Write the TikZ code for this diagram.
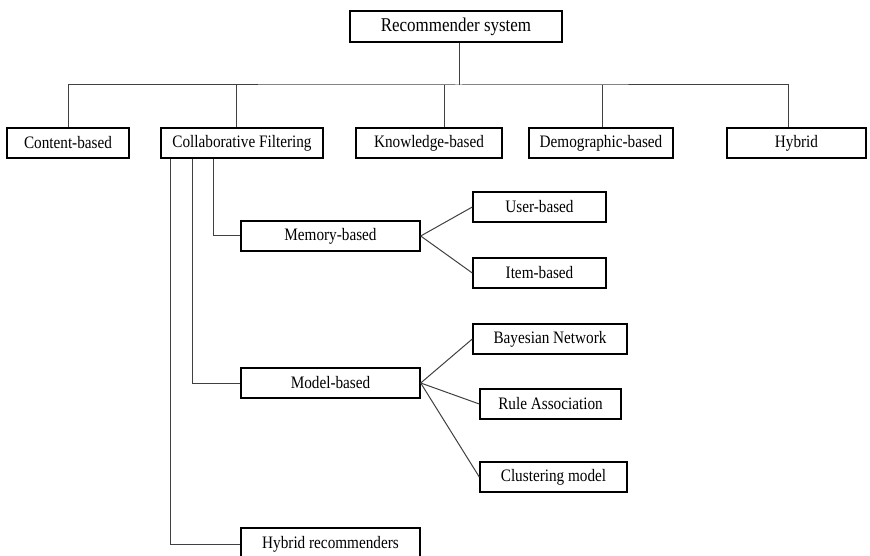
\documentclass[tikz,border=0pt]{standalone}
\usepackage{fontspec}
\setmainfont{Liberation Serif}[FakeStretch=0.87]
\tikzset{
  box/.style={draw=black, line width=1.4pt, fill=white, rectangle, inner sep=0pt,
    font=\fontsize{17.5}{19}\selectfont},
  conn/.style={draw=black!75, line width=1pt},
}
\begin{document}
\begin{tikzpicture}[x=1pt,y=-1pt]
\useasboundingbox (0,0) rectangle (870,556);
% helper: box from x1..x2, y1..y2
\newcommand{\bx}[6][]{\node[box,#1,minimum width={#4-#3},minimum height={#6-#5}] (#2) at ({(#3+#4)/2},{(#5+#6)/2})}
\bx[font=\fontsize{19.5}{21}\selectfont]{root}{350}{562}{11}{42} {Recommender system};
\bx{cb}{7}{129}{128}{158} {Content-based};
\bx{cf}{161}{323}{128}{158} {Collaborative Filtering};
\bx{kb}{356}{502}{128}{158} {Knowledge-based};
\bx{db}{529}{673}{128}{158} {Demographic-based};
\bx{hy}{727}{866}{128}{158} {Hybrid};
\bx{mem}{241}{420}{221}{251} {Memory-based};
\bx{ub}{473}{606}{192}{222} {User-based};
\bx{ib}{473}{606}{258}{288} {Item-based};
\bx{mod}{241}{420}{368}{398} {Model-based};
\bx{bn}{473}{627}{324}{354} {Bayesian Network};
\bx{ra}{480}{621}{389}{419} {Rule Association};
\bx{cm}{480}{627}{462}{492} {Clustering model};
\bx{hr}{241}{420}{528}{560} {Hybrid recommenders};
% tree connectors
\coordinate (bus) at (459,85);
\draw[conn] (root.south -| bus) -- (bus);
\draw[conn] (cb.north -| 68,0) |- (bus) -| (hy.north -| 788,0);
\draw[conn] (cf.north -| 236,0) -- (236,85);
\draw[conn] (kb.north -| 444,0) -- (444,85);
\draw[conn] (db.north -| 602,0) -- (602,85);
\draw[conn] (cf.south -| 213,0) |- (mem.west);
\draw[conn] (cf.south -| 192,0) |- (mod.west);
\draw[conn] (cf.south -| 170,0) |- (hr.west);
\draw[conn] (mem.east) -- (ub.west);
\draw[conn] (mem.east) -- (ib.west);
\draw[conn] (mod.east) -- (bn.west);
\draw[conn] (mod.east) -- (ra.west);
\draw[conn] (mod.east) -- (cm.west);
\end{tikzpicture}
\end{document}
